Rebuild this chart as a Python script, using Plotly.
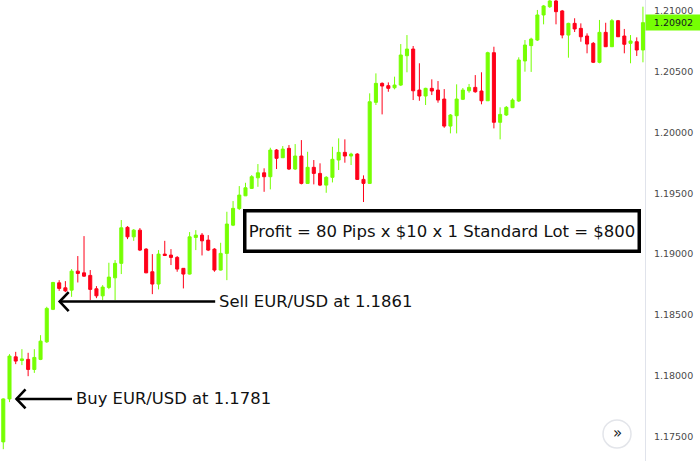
import plotly.graph_objects as go

# ---- data (EUR/USD candles) ----
candle_index = list(range(104))

opens = [
    1.17457, 1.17810, 1.18156, 1.18126, 1.18135, 1.18052, 1.18135, 1.18279, 1.18546, 1.18764,
    1.18723, 1.18704, 1.18860, 1.18846, 1.18825, 1.18715, 1.18657, 1.18726, 1.18805, 1.18924,
    1.19220, 1.19142, 1.19197, 1.19041, 1.18855, 1.18754, 1.19000, 1.18992, 1.18973, 1.18883,
    1.18836, 1.19137, 1.19156, 1.19115, 1.19041, 1.18869, 1.19006, 1.19238, 1.19374, 1.19479,
    1.19540, 1.19627, 1.19668, 1.19636, 1.19855, 1.19792, 1.19869, 1.19699, 1.19806, 1.19581,
    1.19713, 1.19663, 1.19567, 1.19631, 1.19773, 1.19836, 1.19806, 1.19822, 1.19614, 1.19581,
    1.20247, 1.20403, 1.20384, 1.20367, 1.20389, 1.20630, 1.20685, 1.20348, 1.20299, 1.20362,
    1.20348, 1.20274, 1.20052, 1.20137, 1.20272, 1.20342, 1.20370, 1.20340, 1.20260, 1.20655,
    1.20083, 1.20143, 1.20203, 1.20258, 1.20587, 1.20713, 1.20759, 1.20965, 1.21033, 1.21080,
    1.20998, 1.20800, 1.20896, 1.20855, 1.20792, 1.20732, 1.20576, 1.20822, 1.20704, 1.20918,
    1.20792, 1.20732, 1.20745, 1.20677,
]
highs = [
    1.17815, 1.18178, 1.18197, 1.18219, 1.18189, 1.18219, 1.18334, 1.18567, 1.18772, 1.18786,
    1.18778, 1.18877, 1.18984, 1.19148, 1.18869, 1.18737, 1.18745, 1.18929, 1.18951, 1.19280,
    1.19230, 1.19206, 1.19214, 1.19049, 1.19000, 1.19033, 1.19109, 1.19041, 1.18984, 1.18885,
    1.19181, 1.19197, 1.19173, 1.19156, 1.19049, 1.19093, 1.19348, 1.19436, 1.19559, 1.19586,
    1.19649, 1.19740, 1.19705, 1.19874, 1.19863, 1.19888, 1.19896, 1.19904, 1.19937, 1.19841,
    1.19773, 1.19746, 1.19641, 1.19882, 1.19951, 1.19943, 1.19833, 1.19830, 1.19647, 1.20321,
    1.20485, 1.20411, 1.20411, 1.20458, 1.20726, 1.20800, 1.20710, 1.20568, 1.20367, 1.20436,
    1.20422, 1.20356, 1.20151, 1.20395, 1.20365, 1.20398, 1.20471, 1.20494, 1.20663, 1.20704,
    1.20206, 1.20217, 1.20280, 1.20617, 1.20759, 1.20778, 1.21006, 1.21047, 1.21100, 1.21100,
    1.21006, 1.20901, 1.20938, 1.20896, 1.20814, 1.20743, 1.20924, 1.20901, 1.20932, 1.20924,
    1.20850, 1.20800, 1.20781, 1.21033,
]
lows = [
    1.17397, 1.17784, 1.18096, 1.18088, 1.17997, 1.18024, 1.18129, 1.18271, 1.18540, 1.18698,
    1.18688, 1.18649, 1.18767, 1.18813, 1.18622, 1.18638, 1.18622, 1.18712, 1.18622, 1.18836,
    1.19123, 1.19109, 1.19025, 1.18844, 1.18671, 1.18710, 1.18984, 1.18910, 1.18855, 1.18718,
    1.18832, 1.19033, 1.18989, 1.19025, 1.18855, 1.18865, 1.18786, 1.19230, 1.19362, 1.19477,
    1.19535, 1.19553, 1.19512, 1.19532, 1.19699, 1.19790, 1.19691, 1.19691, 1.19573, 1.19576,
    1.19573, 1.19559, 1.19504, 1.19589, 1.19691, 1.19751, 1.19732, 1.19609, 1.19428, 1.19576,
    1.20225, 1.20148, 1.20334, 1.20354, 1.20381, 1.20494, 1.20266, 1.20260, 1.20225, 1.20307,
    1.20244, 1.20038, 1.19992, 1.19992, 1.20266, 1.20326, 1.20326, 1.20231, 1.20258, 1.20033,
    1.19943, 1.20135, 1.20200, 1.20250, 1.20499, 1.20497, 1.20751, 1.20888, 1.21022, 1.20888,
    1.20773, 1.20614, 1.20825, 1.20745, 1.20650, 1.20570, 1.20568, 1.20702, 1.20702, 1.20784,
    1.20650, 1.20568, 1.20628, 1.20576,
]
closes = [
    1.17810, 1.18162, 1.18121, 1.18139, 1.18052, 1.18151, 1.18285, 1.18554, 1.18767, 1.18718,
    1.18698, 1.18860, 1.18841, 1.18819, 1.18710, 1.18657, 1.18729, 1.18811, 1.18924, 1.19216,
    1.19142, 1.19197, 1.19033, 1.18846, 1.18754, 1.19000, 1.18989, 1.18973, 1.18877, 1.18836,
    1.19142, 1.19156, 1.19109, 1.19033, 1.18869, 1.19006, 1.19247, 1.19376, 1.19485, 1.19545,
    1.19636, 1.19668, 1.19636, 1.19855, 1.19787, 1.19863, 1.19699, 1.19806, 1.19581, 1.19713,
    1.19663, 1.19567, 1.19631, 1.19779, 1.19836, 1.19806, 1.19822, 1.19614, 1.19581, 1.20252,
    1.20403, 1.20381, 1.20362, 1.20389, 1.20636, 1.20685, 1.20342, 1.20299, 1.20362, 1.20340,
    1.20266, 1.20052, 1.20143, 1.20274, 1.20348, 1.20370, 1.20334, 1.20260, 1.20655, 1.20083,
    1.20148, 1.20206, 1.20266, 1.20595, 1.20718, 1.20767, 1.20965, 1.21039, 1.21080, 1.20992,
    1.20800, 1.20896, 1.20850, 1.20786, 1.20726, 1.20576, 1.20822, 1.20704, 1.20918, 1.20786,
    1.20724, 1.20751, 1.20677, 1.20902,
]

tick_values = [1.175, 1.180, 1.185, 1.190, 1.195, 1.200, 1.205, 1.210]
tick_labels = ["1.17500", "1.18000", "1.18500", "1.19000", "1.19500", "1.20000", "1.20500", "1.21000"]

last_price_label = "1.20902"
buy_text = "Buy EUR/USD at 1.1781"
buy_price = 1.1781
buy_candle = 2.05
sell_text = "Sell EUR/USD at 1.1861"
sell_price = 1.1861
sell_candle = 9.0
profit_text = "Profit = 80 Pips x $10 x 1 Standard Lot = $800"

GREEN = "#76ff03"
RED = "#ff0019"
FONT = "DejaVu Sans"

fig = go.Figure()
fig.add_trace(go.Candlestick(
    x=candle_index, open=opens, high=highs, low=lows, close=closes,
    increasing=dict(line=dict(color=GREEN, width=1), fillcolor=GREEN),
    decreasing=dict(line=dict(color=RED, width=1), fillcolor=RED),
    whiskerwidth=0, showlegend=False, hoverinfo="skip",
))

shapes = []
annotations = []

def arrow(tip_x, tip_y, shaft_px, text, text_shift):
    shapes.append(dict(type="line", xref="x", yref="y", xsizemode="pixel",
                       xanchor=tip_x, x0=0, x1=shaft_px, y0=tip_y, y1=tip_y,
                       line=dict(color="black", width=2.6)))
    shapes.append(dict(type="path", xref="x", yref="y", xsizemode="pixel", ysizemode="pixel",
                       xanchor=tip_x, yanchor=tip_y, path="M 9.5,9.5 L 0.5,0 L 9.5,-9.5",
                       line=dict(color="black", width=2.6)))
    annotations.append(dict(x=tip_x, y=tip_y, xref="x", yref="y", text=text, showarrow=False,
                            xanchor="left", yanchor="middle", xshift=text_shift,
                            font=dict(family=FONT, size=16.4, color="#111111")))

arrow(buy_candle, buy_price, 56, buy_text, 58)
arrow(sell_candle, sell_price, 156, sell_text, 158)

annotations.append(dict(x=0.6853, y=0.4989, xref="paper", yref="paper", text=profit_text,
                        showarrow=False, xanchor="center", yanchor="middle",
                        width=391, height=37, borderwidth=3.5, bordercolor="black",
                        borderpad=0, bgcolor="white",
                        font=dict(family=FONT, size=16.5, color="#111111")))

annotations.append(dict(x=1, y=closes[-1], xref="paper", yref="y", text=last_price_label,
                        showarrow=False, xanchor="left", yanchor="middle",
                        width=53, height=13, bgcolor=GREEN, borderpad=1,
                        font=dict(family=FONT, size=9.5, color="#131722")))

# scroll-to-realtime button
shapes.append(dict(type="circle", xref="paper", yref="paper", xsizemode="pixel", ysizemode="pixel",
                   xanchor=0.9566, yanchor=0.0586, x0=-14, x1=14, y0=-14, y1=14,
                   line=dict(color="#e3e5ea", width=1.5), fillcolor="white"))
annotations.append(dict(x=0.9566, y=0.0586, xref="paper", yref="paper", text="»",
                        showarrow=False, xanchor="center", yanchor="middle",
                        font=dict(family=FONT, size=15, color="#131722"), yshift=1))

fig.update_layout(
    width=700, height=461,
    margin=dict(l=0, r=55, t=0, b=0),
    paper_bgcolor="white", plot_bgcolor="white",
    shapes=shapes, annotations=annotations,
    xaxis=dict(range=[-0.53, 103.33], visible=False, rangeslider=dict(visible=False),
               showgrid=False, zeroline=False),
    yaxis=dict(range=[1.17300, 1.21088], side="right", showgrid=False, zeroline=False,
               tickvals=tick_values, ticktext=tick_labels,
               ticks="outside", ticklen=6, tickcolor="rgba(0,0,0,0)",
               showline=True, linecolor="#e0e3eb", linewidth=1,
               tickfont=dict(family=FONT, size=9.5, color="#4a4a4a")),
)

fig.write_html("out.html", config={"displayModeBar": False},
               post_script="document.body.style.margin='0';document.body.style.overflow='hidden';")
